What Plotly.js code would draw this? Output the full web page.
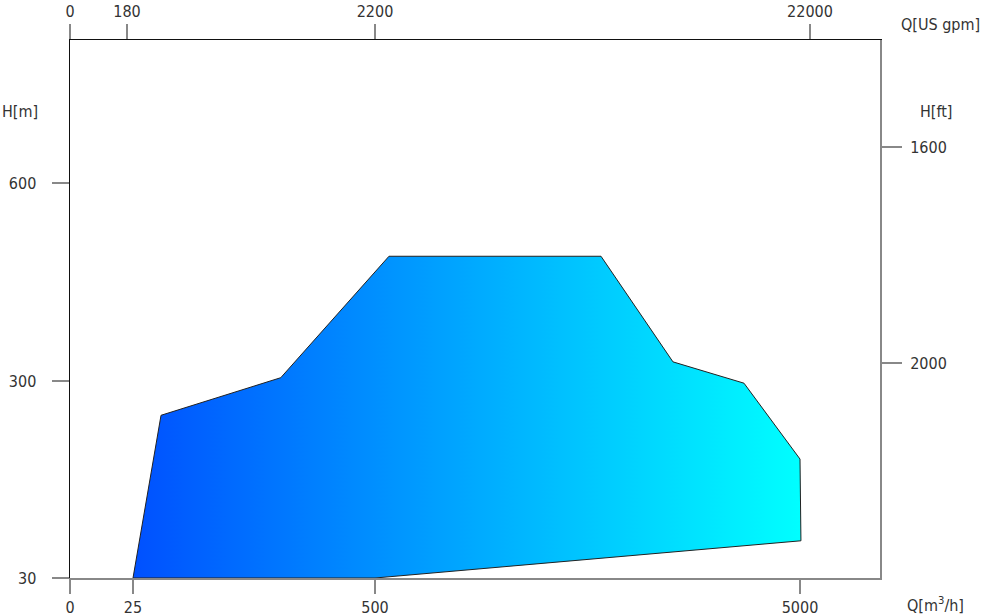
<!DOCTYPE html>
<html>
<head>
<meta charset="utf-8">
<script src="https://cdn.plot.ly/plotly-3.0.1.min.js"></script>
<style>html,body{margin:0;padding:0;background:#fff;}#chart{width:981px;height:616px;}</style>
</head>
<body>
<div id="chart"></div>
<script>
// ---- data (real units) ----
const rangeQ = [25, 80, 315, 648, 2893, 3655, 4407, 5000, 5010, 500, 25];   // m3/h
const rangeH = [30, 253, 305, 489, 489, 329, 297, 193, 81, 30, 30];         // m

const qTicks = [0, 25, 500, 5000];
const gpmTicks = [0, 180, 2200, 22000];
const hTicks = [30, 300, 600];
const ftTicks = [1600, 2000];

// ---- axis scale layout (piecewise scales as drawn in the original chart) ----
const qTickPos = [0, 63, 305, 730];
const gpmTickPos = [0, 57, 305, 740];
const hTickPos = [0, 197, 395];
const ftTickPos = [431, 215];
const X_RANGE = [0, 810];
const Y_RANGE = [0, 538];

function piecewise(v, vals, pos) {
  let i = 0;
  while (i < vals.length - 2 && v > vals[i + 1]) i++;
  const t = (v - vals[i]) / (vals[i + 1] - vals[i]);
  return pos[i] + t * (pos[i + 1] - pos[i]);
}
const qToX = q => piecewise(q, qTicks, qTickPos);
const hToY = h => piecewise(h, hTicks, hTickPos);

const xs = rangeQ.map(qToX);
const ys = rangeH.map(hToY);

const FONT = {family: '"DejaVu Sans Condensed", "Liberation Sans Narrow", sans-serif', size: 16, color: '#333'};

const traces = [
  {
    x: xs, y: ys, type: 'scatter', mode: 'lines', fill: 'toself',
    line: {color: '#222', width: 1},
    fillgradient: {type: 'horizontal', colorscale: [[0, '#0050ff'], [1, '#00ffff']]},
    hoverinfo: 'skip', showlegend: false
  },
  {
    x: xs, y: ys, xaxis: 'x2', yaxis: 'y2', type: 'scatter', mode: 'lines',
    line: {color: 'rgba(0,0,0,0)', width: 0}, hoverinfo: 'skip', showlegend: false
  }
];

const layout = {
  width: 981, height: 616,
  margin: {l: 70, r: 101, t: 40, b: 38, pad: 0},
  paper_bgcolor: '#fff', plot_bgcolor: '#fff',
  showlegend: false,
  font: FONT,
  xaxis: {
    range: X_RANGE, tickmode: 'array', tickvals: qTicks.map(qToX), ticktext: qTicks.map(String),
    showline: true, linecolor: '#888', linewidth: 2, ticks: 'outside', ticklen: 14, tickcolor: '#888', tickwidth: 1.5,
    ticklabelstandoff: 0,
    showgrid: false, zeroline: false, tickfont: FONT, fixedrange: true
  },
  xaxis2: {
    overlaying: 'x', side: 'top', anchor: 'y',
    range: X_RANGE, tickmode: 'array', tickvals: gpmTickPos, ticktext: gpmTicks.map(String),
    showline: true, linecolor: '#111', linewidth: 1.5, ticks: 'outside', ticklen: 15, tickcolor: '#888', tickwidth: 1.5,
    showgrid: false, zeroline: false, tickfont: FONT, fixedrange: true
  },
  yaxis: {
    range: Y_RANGE, tickmode: 'array', tickvals: hTicks.map(hToY), ticktext: hTicks.map(String),
    showline: true, linecolor: '#111', linewidth: 1.5, ticks: 'outside', ticklen: 17, tickcolor: '#888', tickwidth: 1.5,
    ticklabelstandoff: 12,
    showgrid: false, zeroline: false, tickfont: FONT, fixedrange: true
  },
  yaxis2: {
    overlaying: 'y', side: 'right', anchor: 'x',
    range: Y_RANGE, tickmode: 'array', tickvals: ftTickPos, ticktext: ftTicks.map(String),
    showline: true, linecolor: '#888', linewidth: 2, ticks: 'outside', ticklen: 20, tickcolor: '#888', tickwidth: 1.5,
    ticklabelstandoff: 5,
    showgrid: false, zeroline: false, tickfont: FONT, fixedrange: true
  },
  annotations: [
    {text: 'H[m]', xref: 'paper', yref: 'paper', x: -0.0864, y: 0.868, xanchor: 'left', yanchor: 'middle', showarrow: false, font: FONT},
    {text: 'H[ft]', xref: 'paper', yref: 'paper', x: 1.047, y: 0.868, xanchor: 'left', yanchor: 'middle', showarrow: false, font: FONT},
    {text: 'Q[US gpm]', xref: 'paper', yref: 'paper', x: 1.0235, y: 1.028, xanchor: 'left', yanchor: 'middle', showarrow: false, font: FONT},
    {text: 'Q[m<sup>3</sup>/h]', xref: 'paper', yref: 'paper', x: 1.031, y: -0.05, xanchor: 'left', yanchor: 'middle', showarrow: false, font: FONT}
  ]
};

Plotly.newPlot('chart', traces, layout, {staticPlot: true, displayModeBar: false});
</script>
</body>
</html>
